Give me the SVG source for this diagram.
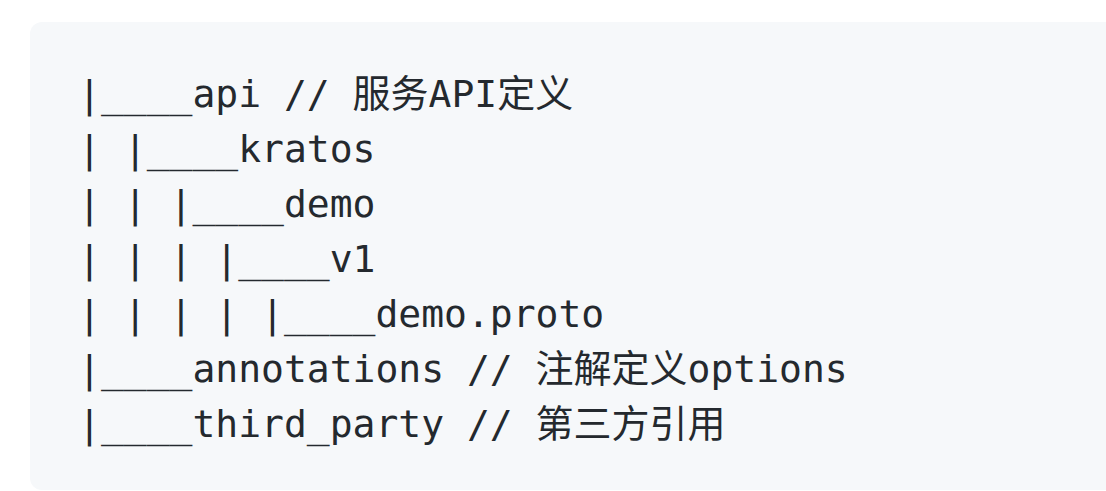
<svg xmlns="http://www.w3.org/2000/svg" width="1106" height="491" viewBox="0 0 1106 491">
<style>
text{font-family:"DejaVu Sans Mono","Liberation Mono","Noto Sans CJK SC",monospace;font-size:38px;fill:#24292e;white-space:pre}
</style>
<rect width="1106" height="491" fill="#ffffff"/>
<rect x="30" y="22" width="1100" height="468" rx="12" fill="#f6f8fa"/>
<g id="tree">
<text x="78" y="107" xml:space="preserve">|____api // 服务API定义</text>
<text x="78" y="162" xml:space="preserve">| |____kratos</text>
<text x="78" y="217" xml:space="preserve">| | |____demo</text>
<text x="78" y="272" xml:space="preserve">| | | |____v1</text>
<text x="78" y="327" xml:space="preserve">| | | | |____demo.proto</text>
<text x="78" y="382" xml:space="preserve">|____annotations // 注解定义options</text>
<text x="78" y="437" xml:space="preserve">|____third_party // 第三方引用</text>
</g>
</svg>
